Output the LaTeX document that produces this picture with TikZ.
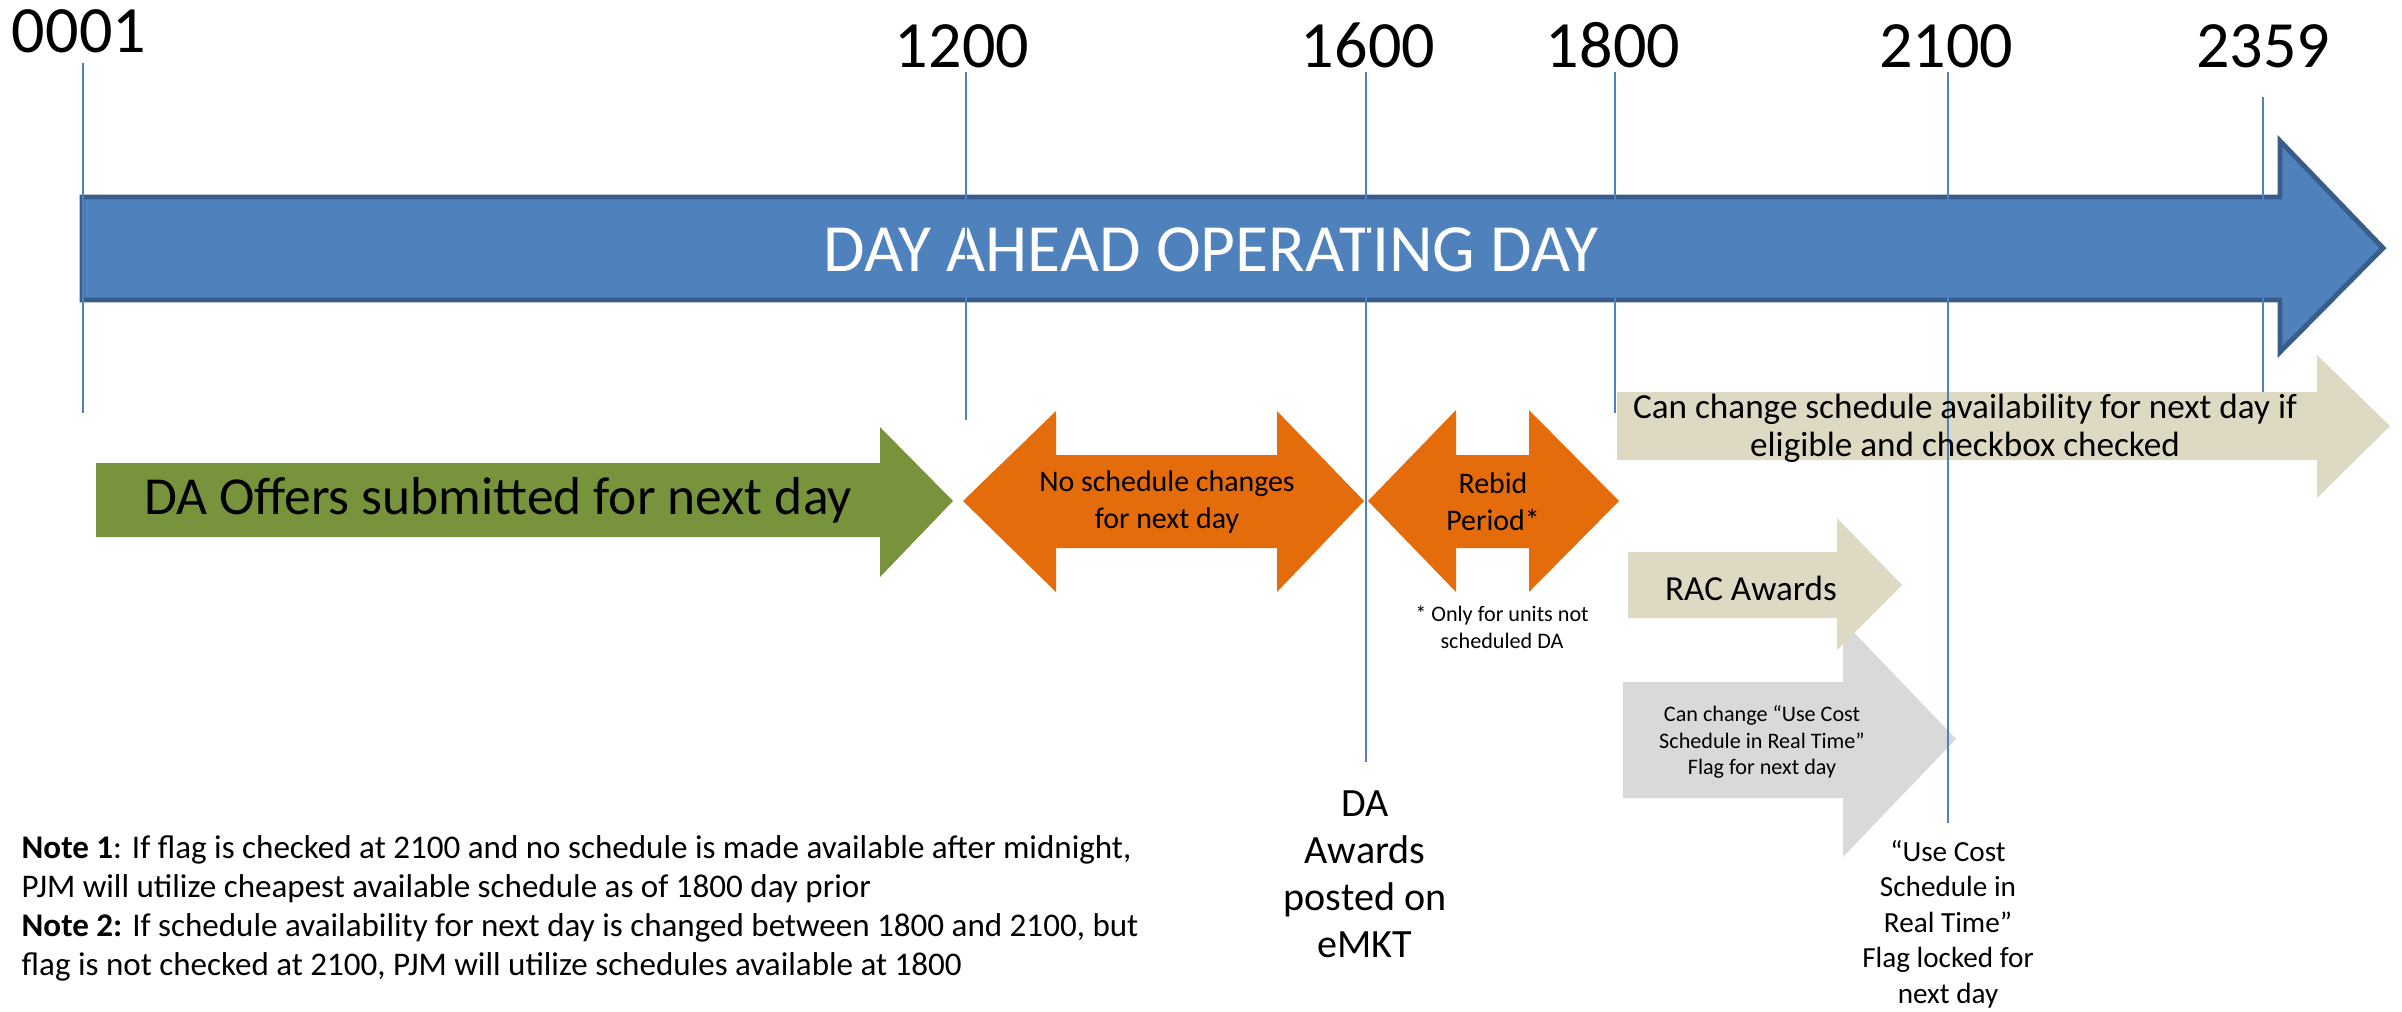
\documentclass[tikz,border=0pt]{standalone}
\usepackage{fontspec}
\setmainfont{Carlito}
\usepackage{tikz}
\definecolor{barblue}{RGB}{79,129,189}
\definecolor{barline}{RGB}{56,93,138}
\definecolor{offergreen}{RGB}{119,147,60}
\definecolor{rebidorange}{RGB}{228,108,10}
\definecolor{tanfill}{RGB}{221,217,195}
\definecolor{flaggray}{RGB}{217,217,217}

\begin{document}
\begin{tikzpicture}[
    x=0.01cm, y=-0.01cm,
    tick/.style={draw=barblue, line width=0.6pt},
    hour/.style={font=\fontsize{18.8}{22}\selectfont, inner sep=0pt, anchor=base},
    daybar/.style={fill=barblue, draw=barline, line width=1.4pt, line join=miter},
    bartext/.style={font=\fontsize{19.2}{22}\selectfont, text=white, inner sep=0pt},
    offertext/.style={font=\fontsize{15.2}{18}\selectfont, inner sep=0pt},
    oratext/.style={font=\fontsize{8.5}{10.5}\selectfont, align=center, inner sep=0pt},
    tantext/.style={font=\fontsize{10}{10.8}\selectfont, align=center, inner sep=0pt},
    smalltext/.style={font=\fontsize{6.3}{7.6}\selectfont, align=center, inner sep=0pt},
    awardtext/.style={font=\fontsize{11.4}{13.4}\selectfont, align=center, inner sep=0pt},
    locktext/.style={font=\fontsize{8.3}{10.1}\selectfont, align=center, inner sep=0pt},
    notetext/.style={font=\fontsize{9.4}{11.1}\selectfont, align=left, inner sep=0pt}
]
    \useasboundingbox (0,0) rectangle (2402,1011);

    % Operating day bar
    \filldraw[daybar] (82,197) -- (2280,197) -- (2280,141) -- (2383,248) -- (2280,352) -- (2280,300) -- (82,300) -- cycle;
    \node[bartext] (dayahead) at (1211,250) {DAY AHEAD OPERATING DAY};

    % Offer and rebid arrows
    \fill[offergreen] (96,463) -- (880,463) -- (880,427) -- (953,501) -- (880,577) -- (880,537) -- (96,537) -- cycle;
    \fill[rebidorange] (963,501) -- (1056,411) -- (1056,455) -- (1277,455) -- (1277,411) -- (1364,501) -- (1277,592) -- (1277,548) -- (1056,548) -- (1056,592) -- cycle;
    \fill[rebidorange] (1368,501) -- (1456,410) -- (1456,455) -- (1529,455) -- (1529,410) -- (1619,501) -- (1529,592) -- (1529,548) -- (1456,548) -- (1456,592) -- cycle;

    % After 1800 arrows
    \fill[tanfill] (1617,392) -- (2317,392) -- (2317,355) -- (2390,426) -- (2317,498) -- (2317,460) -- (1617,460) -- cycle;
    \fill[flaggray] (1623,682) -- (1843,682) -- (1843,621) -- (1956,739) -- (1843,857) -- (1843,798) -- (1623,798) -- cycle;
    \fill[tanfill] (1628,552) -- (1837,552) -- (1837,518) -- (1902,585) -- (1837,650) -- (1837,618) -- (1628,618) -- cycle;

    % Time marks
    \node[hour] (t0001) at (79,52) {0001};
    \node[hour] (t1200) at (962,67) {1200};
    \node[hour] (t1600) at (1368,67) {1600};
    \node[hour] (t1800) at (1613,67) {1800};
    \node[hour] (t2100) at (1946,67) {2100};
    \node[hour] (t2359) at (2263,67) {2359};

    \draw[tick] (83,63) coordinate (top0001) -- (83,413) coordinate (bot0001);
    \draw[tick] (966,72) coordinate (top1200) -- (966,420) coordinate (bot1200);
    \draw[tick] (1366,72) coordinate (top1600) -- (1366,762) coordinate (bot1600);
    \draw[tick] (1615,72) coordinate (top1800) -- (1615,413) coordinate (bot1800);
    \draw[tick] (1948,72) coordinate (top2100) -- (1948,823) coordinate (bot2100);
    \draw[tick] (2263,97) coordinate (top2359) -- (2263,392) coordinate (bot2359);

    % Arrow texts
    \node[offertext] (offers) at (498,500) {DA Offers submitted for next day};
    \node[oratext] (nochange) at (1167,502) {No schedule changes\\for next day};
    \node[oratext] (rebid) at (1493,502) {Rebid\\Period*};
    \node[smalltext] (onlyunits) at (1502,627) {* Only for units not\\scheduled DA};
    \node[tantext] (canchange) at (1965,428) {Can change schedule availability for next day if\\eligible and checkbox checked};
    \node[tantext] (rac) at (1751,588) {RAC Awards};
    \node[smalltext] (usecost) at (1762,742) {Can change “Use Cost\\Schedule in Real Time”\\Flag for next day};

    % Labels below the marks
    \node[awardtext] (daawards) at (1365,874) {DA\\Awards\\posted on\\eMKT};
    \node[locktext] (flaglock) at (1948,924) {“Use Cost\\Schedule in\\Real Time”\\Flag locked for\\next day};

    % Notes
    \node[notetext, anchor=west] (notes) at (21,908) {\textbf{Note 1}: If flag is checked at 2100 and no schedule is made available after midnight,\\PJM will utilize cheapest available schedule as of 1800 day prior\\\textbf{Note 2:} If schedule availability for next day is changed between 1800 and 2100, but\\flag is not checked at 2100, PJM will utilize schedules available at 1800};
\end{tikzpicture}
\end{document}
